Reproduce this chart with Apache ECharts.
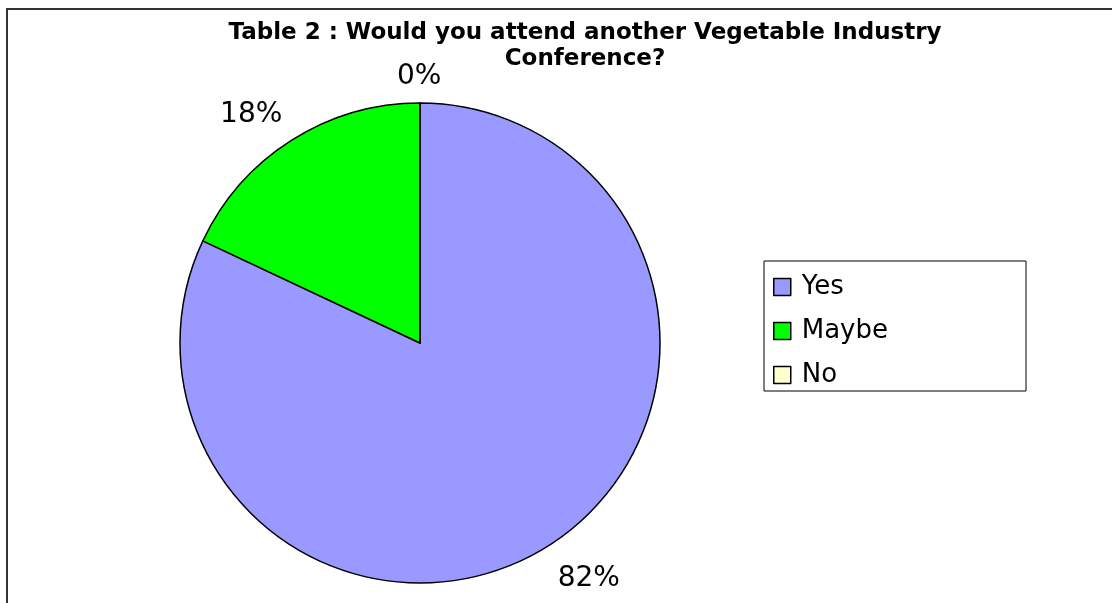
<!DOCTYPE html>
<html>
<head>
<meta charset="utf-8">
<script src="https://cdn.jsdelivr.net/npm/echarts@6/dist/echarts.min.js"></script>
<style>
  html, body { margin: 0; padding: 0; background: #fff; }
  #main { width: 1112px; height: 603px; }
</style>
</head>
<body>
<div id="main"></div>
<script>
// 数据
var categories = ['Yes', 'Maybe', 'No'];
var shares = [82, 18, 0];
var colors = ['#9999FF', '#00FF00', '#FFFFCC'];
// 标签微调
var labelShift = [[-12, 8], [12, 0], [-28, 4]];

var chart = echarts.init(document.getElementById('main'));

var pieData = categories.map(function (name, i) {
    return { name: name, value: shares[i], itemStyle: { color: colors[i] } };
});

chart.setOption({
    animation: false,
    backgroundColor: '#fff',
    textStyle: { fontFamily: 'DejaVu Sans' },
    //外框
    graphic: [{
        type: 'rect',
        silent: true,
        shape: { x: 7, y: 9, width: 1300, height: 800 },
        style: { fill: 'none', stroke: '#333', lineWidth: 2 }
    }],
    title: {
        text: 'Table 2 : Would you attend another Vegetable Industry\nConference?',
        left: 580,
        top: 15,
        textAlign: 'center',
        textStyle: {
            fontFamily: 'DejaVu Sans',
            fontSize: 23,
            fontWeight: 'bold',
            color: '#000',
            lineHeight: 26
        }
    },
    legend: {
        orient: 'vertical',
        left: 764,
        top: 261,
        data: categories,
        icon: 'rect',
        itemWidth: 17,
        itemHeight: 17,
        itemGap: 18,
        padding: [13, 138, 3, 9],
        borderColor: '#000',
        borderWidth: 1,
        backgroundColor: '#fff',
        itemStyle: { borderColor: '#000', borderWidth: 1.5 },
        textStyle: { fontFamily: 'DejaVu Sans', fontSize: 26, color: '#000', padding: [0, 0, 0, 6] }
    },
    series: [{
        type: 'pie',
        center: [420, 343],
        radius: 240,
        startAngle: 90,
        clockwise: true,
        itemStyle: { borderColor: '#000', borderWidth: 1.5 },
        label: {
            show: true,
            position: 'outside',
            formatter: '{d}%',
            fontFamily: 'DejaVu Sans',
            fontSize: 28,
            color: '#000'
        },
        labelLine: { show: false, length: 30, length2: 0 },
        labelLayout: function (params) {
            var s = labelShift[params.dataIndex];
            return { dx: s[0], dy: s[1] };
        },
        emphasis: { disabled: true },
        data: pieData
    }]
});
</script>
</body>
</html>
